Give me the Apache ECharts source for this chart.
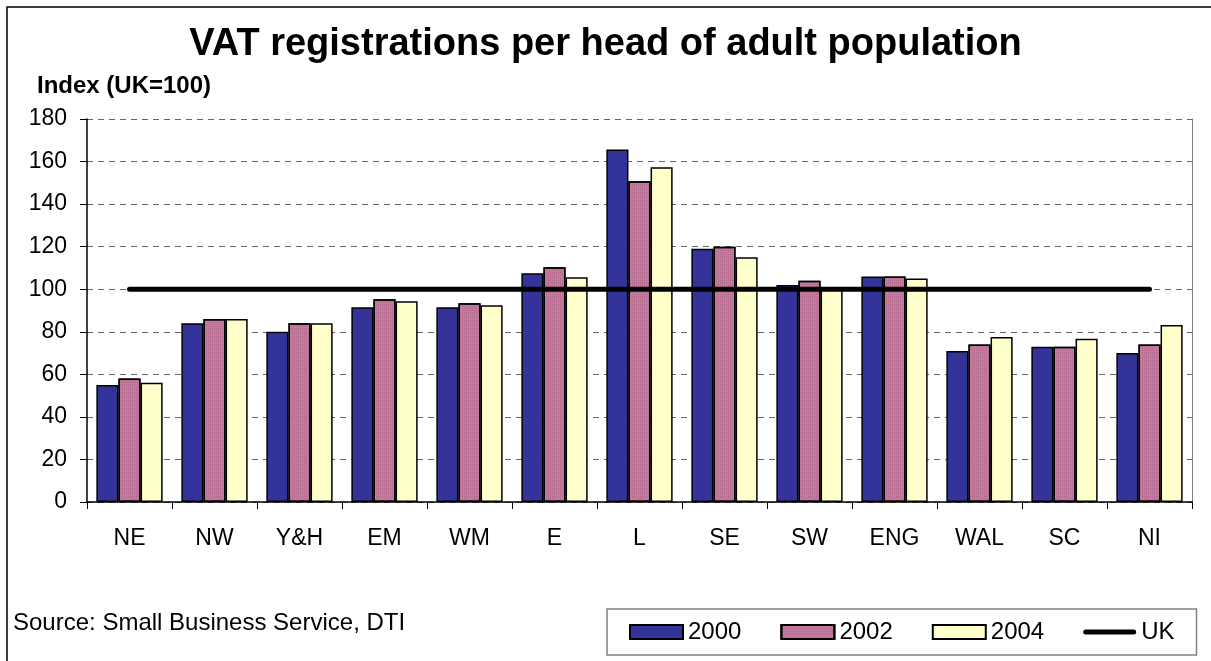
<!DOCTYPE html>
<html>
<head>
<meta charset="utf-8">
<script src="https://cdn.jsdelivr.net/npm/echarts@6/dist/echarts.min.js"></script>
<style>
html, body { margin: 0; padding: 0; background: #fff; }
#main { width: 1211px; height: 661px; }
</style>
</head>
<body>
<div id="main"></div>
<script>
var categories = ['NE', 'NW', 'Y&H', 'EM', 'WM', 'E', 'L', 'SE', 'SW', 'ENG', 'WAL', 'SC', 'NI'];
var v2000 = [55, 84, 80, 91.5, 91.5, 107.5, 165.7, 119, 102, 106, 71, 73, 70];
var v2002 = [58, 86, 84, 95.3, 93.4, 110.3, 150.8, 120, 104, 106, 74, 73, 74];
var v2004 = [56, 86, 84, 94.4, 92.5, 105.6, 157.3, 115, 100, 105, 77.6, 76.7, 83.2];
var ukLine = [100, 100, 100, 100, 100, 100, 100, 100, 100, 100, 100, 100, 100];
var yTicks = [0, 20, 40, 60, 80, 100, 120, 140, 160, 180];

var myChart = echarts.init(document.getElementById('main'));

var font = 'Arial, "Liberation Sans", sans-serif';

function barSeries(name, data, color, decal) {
    var s = {
        name: name,
        type: 'bar',
        data: data,
        barGap: '0%',
        barCategoryGap: '22%',
        itemStyle: {
            color: color,
            borderColor: '#000',
            borderWidth: 1.5
        }
    };
    if (decal) {
        s.itemStyle.decal = decal;
    }
    return s;
}

// rounded thick line for the UK legend entry
var ukIcon = 'path://M2.5,0 L50.5,0 A2.5,2.5 0 0 1 50.5,5 L2.5,5 A2.5,2.5 0 0 1 2.5,0 Z';

option = {
    animation: false,
    textStyle: { fontFamily: font },
    title: {
        text: 'VAT registrations per head of adult population',
        left: 'center',
        top: 21,
        textStyle: { fontSize: 38, fontWeight: 'bold', color: '#000', fontFamily: font }
    },
    graphic: [
        {
            type: 'rect',
            shape: { x: 7, y: 7, width: 1230, height: 700 },
            style: { fill: 'none', stroke: '#000', lineWidth: 1.5 },
            silent: true
        },
        {
            type: 'text',
            left: 37,
            top: 74,
            style: { text: 'Index (UK=100)', font: 'bold 24px ' + font, fill: '#000' }
        },
        {
            type: 'text',
            left: 13,
            top: 611,
            style: { text: 'Source: Small Business Service, DTI', font: '24px ' + font, fill: '#000' }
        }
    ],
    legend: {
        left: 607,
        top: 609,
        padding: [11, 22, 11, 22],
        itemWidth: 53,
        itemHeight: 14,
        itemGap: 39,
        borderColor: '#808080',
        borderWidth: 1.5,
        textStyle: { fontSize: 24, color: '#000', fontFamily: font },
        data: [
            { name: '2000', icon: 'rect' },
            { name: '2002', icon: 'rect' },
            { name: '2004', icon: 'rect' },
            { name: 'UK', icon: ukIcon }
        ]
    },
    grid: {
        left: 87,
        right: 19,
        top: 119,
        bottom: 159
    },
    xAxis: {
        type: 'category',
        data: categories,
        axisLine: { lineStyle: { color: '#000', width: 1.5 } },
        axisTick: { show: true, length: 7, lineStyle: { color: '#000' } },
        axisLabel: { fontSize: 23, color: '#000', margin: 25, fontFamily: font }
    },
    yAxis: [
        {
            type: 'value',
            min: 0,
            max: 180,
            interval: 20,
            axisLine: { show: true, lineStyle: { color: '#000', width: 1.5 } },
            axisTick: { show: true, length: 7, lineStyle: { color: '#000' } },
            axisLabel: { fontSize: 23, color: '#000', margin: 20, fontFamily: font },
            splitLine: { show: true, lineStyle: { color: '#666', type: [6, 5], width: 1 } }
        },
        {
            type: 'value',
            position: 'right',
            min: 0,
            max: 180,
            interval: 20,
            axisLine: { show: true, lineStyle: { color: '#808080', width: 1 } },
            axisTick: { show: false },
            axisLabel: { show: false },
            splitLine: { show: false }
        }
    ],
    series: [
        barSeries('2000', v2000, '#333399'),
        barSeries('2002', v2002, '#C27C9E', {
            symbol: 'rect',
            symbolSize: 1,
            dashArrayX: [1, 1],
            dashArrayY: [1, 1],
            color: 'rgba(150, 70, 110, 0.35)'
        }),
        barSeries('2004', v2004, '#FFFFCC'),
        {
            name: 'UK',
            type: 'line',
            data: ukLine,
            symbol: 'none',
            z: 5,
            color: '#000',
            lineStyle: { color: '#000', width: 5, cap: 'round' }
        }
    ]
};

myChart.setOption(option);
window.onresize = myChart.resize;
</script>
</body>
</html>
